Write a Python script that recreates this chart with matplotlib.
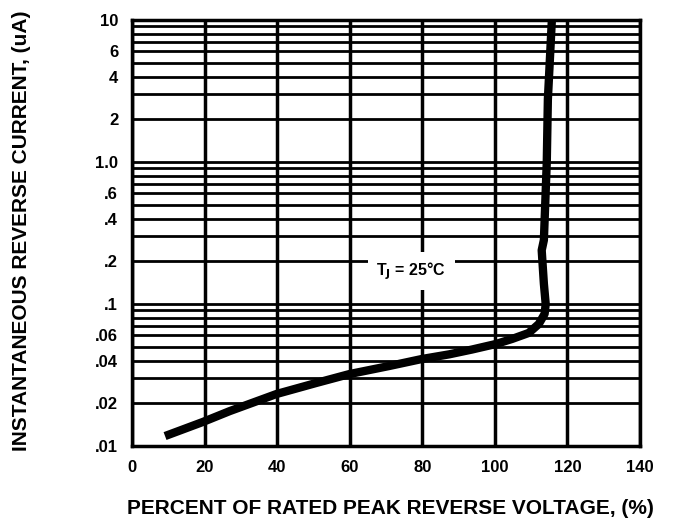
import numpy as np
from matplotlib import pyplot as plt
from matplotlib.ticker import FixedLocator, LogLocator, NullFormatter

# Curve
voltage_pct = [9.1, 19.5, 26.9, 39.8, 50.8, 59.9, 70.9, 79.9, 87.4, 93.7,
               100.3, 104.7, 109.3, 112.1, 113.7, 114.0, 113.5, 112.9, 113.5,
               114.3, 114.6, 115.7]
current_ua = [0.01175, 0.01476, 0.0176, 0.02323, 0.0278, 0.0321, 0.0366,
              0.0410, 0.0442, 0.0478, 0.0523, 0.0567, 0.0625, 0.0723, 0.0851,
              0.100, 0.139, 0.239, 0.282, 1.0, 2.76, 10.0]

x_ticks = [0, 20, 40, 60, 80, 100, 120, 140]
y_ticks = [0.01, 0.02, 0.04, 0.06, 0.1, 0.2, 0.4, 0.6, 1.0, 2, 4, 6, 10]
y_labels = ['.01', '.02', '.04', '.06', '.1', '.2', '.4', '.6', '1.0',
            '2', '4', '6', '10']

plt.rcParams['font.family'] = ['Liberation Sans', 'DejaVu Sans']
plt.rcParams['font.weight'] = 'bold'

fig = plt.figure(figsize=(6.75, 5.22), dpi=100)
ax = fig.add_axes([0.1956, 0.1456, 0.7526, 0.8161])

ax.set_yscale('log')
ax.set_xlim(0, 140)
ax.set_ylim(0.01, 10)

ax.xaxis.set_major_locator(FixedLocator(x_ticks))
ax.yaxis.set_major_locator(FixedLocator(y_ticks))
ax.yaxis.set_minor_locator(LogLocator(base=10, subs=np.arange(2, 10)))
ax.yaxis.set_minor_formatter(NullFormatter())
ax.set_yticklabels(y_labels)
ax.set_xticklabels([str(t) for t in x_ticks])

ax.grid(True, which='major', axis='x', color='black', lw=2.5)
ax.grid(True, which='both', axis='y', color='black', lw=2.0)
ax.tick_params(which='both', length=0, labelsize=12, pad=10)
for sp in ax.spines.values():
    sp.set_linewidth(2.5)

ax.plot(voltage_pct, current_ua, color='black', lw=6, solid_capstyle='butt',
        solid_joinstyle='round', zorder=5)

ax.text(77, 0.17, 'T$_{\\mathbf{J}}$ = 25\u00b0C', fontsize=11.5,
        fontweight='bold', ha='center', va='center', zorder=6,
        bbox=dict(facecolor='white', edgecolor='none', pad=6))

fig.text(390 / 675, 1 - 508 / 522,
         'PERCENT OF RATED PEAK REVERSE VOLTAGE, (%)', fontsize=15,
         fontweight='bold', ha='center', va='center')
fig.text(22 / 675, 1 - 231 / 522,
         'INSTANTANEOUS REVERSE CURRENT, (uA)', fontsize=15,
         fontweight='bold', ha='center', va='center', rotation=90)

fig.savefig('out.png', dpi=100)
